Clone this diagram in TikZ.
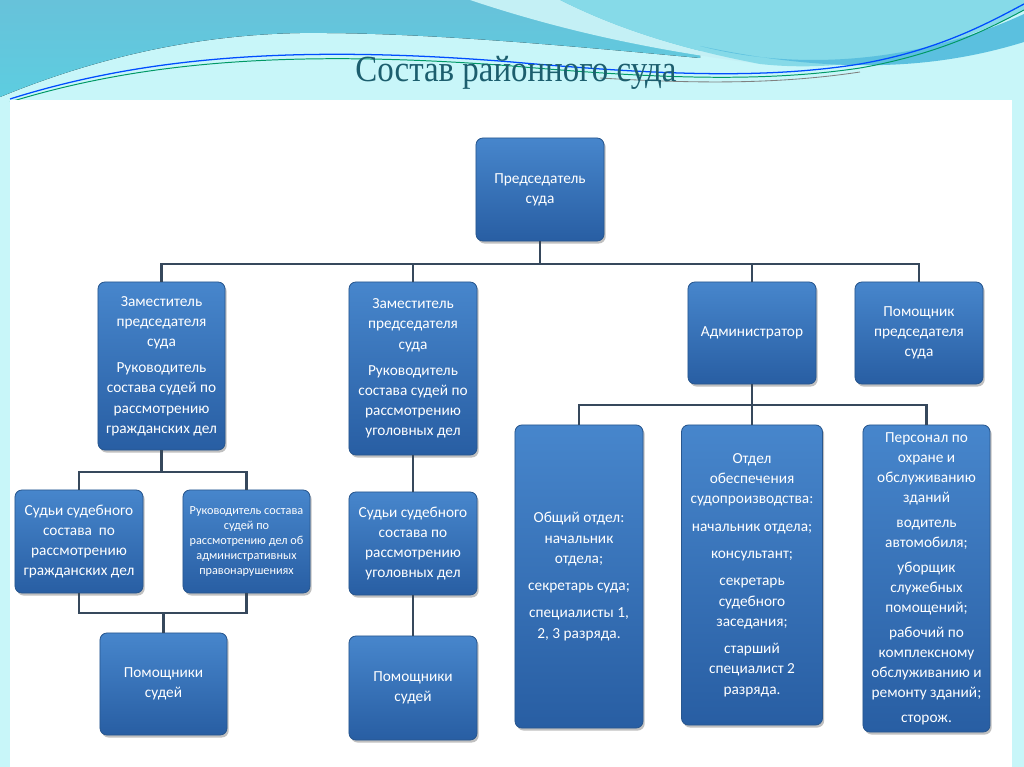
\documentclass[tikz,border=0pt]{standalone}
\usepackage{fontspec}
\newfontfamily\boxfont{Carlito}
\newfontfamily\titlefont{Liberation Serif}
\usetikzlibrary{shadows}
\definecolor{boxtop}{HTML}{4786CC}
\definecolor{boxbot}{HTML}{285EA3}
\definecolor{boxline}{HTML}{28578F}
\definecolor{wirec}{HTML}{36485C}
\definecolor{sky}{HTML}{C8F6F9}
\definecolor{waveA}{HTML}{67C2DA}
\definecolor{waveAb}{HTML}{5DCDE0}
\definecolor{waveB}{HTML}{86DAE8}
\definecolor{waveC}{HTML}{5BC0DF}
\definecolor{pale}{HTML}{C4F0F5}
\definecolor{titlec}{HTML}{1C5E6E}

\begin{document}
\begin{tikzpicture}[x=0.025cm,y=-0.025cm]
  \tikzstyle{unit}=[rounded corners=5pt,draw=boxline,line width=0.6pt,
    top color=boxtop,bottom color=boxbot,text=white,align=center,inner sep=2pt,
    font=\boxfont\fontsize{10.9}{14.4}\selectfont,
    minimum width=3.2cm,minimum height=2.575cm,
    drop shadow={shadow xshift=1.2pt,shadow yshift=-1.8pt,opacity=0.35,fill=black!70}]
  \tikzstyle{wire}=[draw=wirec,line width=2.1pt]

  % background
  \useasboundingbox (0,0) rectangle (1024,767);
  \fill[sky] (0,0) rectangle (1024,767);
  \fill[top color=waveA,bottom color=waveAb] (0,0) -- (0,97) .. controls (90,60) and (190,35) .. (300,33)
    .. controls (420,32) and (560,45) .. (700,58) -- (700,0) -- cycle;
  \fill[pale] (470,0) .. controls (560,30) and (650,50) .. (760,64) .. controls (660,45) and (600,20) .. (560,0) -- cycle;
  \fill[waveB] (560,0) .. controls (600,20) and (660,45) .. (760,64) .. controls (860,75) and (960,45) .. (1024,10) -- (1024,0) -- cycle;
  \fill[waveC] (700,46) .. controls (800,72) and (920,62) .. (1024,14) -- (1024,42) .. controls (940,68) and (840,76) .. (700,46) -- cycle;
  \draw[blue!70!cyan,line width=0.9pt] (10,99) .. controls (140,58) and (290,44) .. (512,62)
    .. controls (650,74) and (760,80) .. (860,64) .. controls (940,50) and (990,22) .. (1024,4);
  \draw[teal!80!green,line width=0.7pt] (10,102) .. controls (140,62) and (290,49) .. (512,66)
    .. controls (650,78) and (760,83) .. (860,68) .. controls (940,54) and (990,28) .. (1024,10);
  \draw[gray,line width=0.6pt] (600,78) .. controls (700,84) and (780,84) .. (860,72);
  \fill[white] (10,100) rectangle (1012,767);

  \node[font=\titlefont\fontsize{23.4}{28}\selectfont,text=titlec,anchor=base,yscale=1.12,transform shape] (title) at (516,82) {Состав районного суда};

  % top level
  \node[unit] (pred) at (540,189.5) {Председатель\\суда};
  \node[unit,minimum width=3.175cm,minimum height=4.2cm] (zam_1) at (161.5,366)
    {Заместитель\\председателя\\суда\\[4pt]Руководитель\\состава судей по\\рассмотрению\\гражданских дел};
  \node[unit,minimum height=4.325cm] (zam_2) at (413,368.5)
    {Заместитель\\председателя\\суда\\[4pt]Руководитель\\состава судей по\\рассмотрению\\уголовных дел};
  \node[unit,minimum height=2.55cm] (admin) at (752,333) {Администратор};
  \node[unit,minimum height=2.55cm] (pom) at (919,333) {Помощник\\председателя\\суда};

  % civil branch
  \node[unit] (sud_1) at (79,541.5) {Судьи судебного\\состава~ по\\рассмотрению\\гражданских дел};
  \node[unit,minimum width=3.175cm,font=\boxfont\fontsize{8.7}{10.8}\selectfont] (ruk) at (246.5,541.5)
    {Руководитель состава\\судей по\\рассмотрению дел об\\административных\\правонарушениях};
  \node[unit,minimum width=3.175cm,minimum height=2.55cm] (pom_1) at (163.5,684) {Помощники\\судей};

  % criminal branch
  \node[unit] (sud_2) at (413,543.5) {Судьи судебного\\состава по\\рассмотрению\\уголовных дел};
  \node[unit,minimum height=2.6cm] (pom_2) at (413,688) {Помощники\\судей};

  % administrator branch
  \node[unit,minimum height=7.575cm] (otd_1) at (579,576.5)
    {Общий отдел:\\начальник\\отдела;\\[5pt]секретарь суда;\\[5pt]специалисты 1,\\2, 3 разряда.};
  \node[unit,minimum width=3.525cm,minimum height=7.5cm] (otd_2) at (752,575)
    {Отдел\\обеспечения\\судопроизводства:\\[5pt]начальник отдела;\\[5pt]консультант;\\[5pt]секретарь\\судебного\\заседания;\\[5pt]старший\\специалист 2\\разряда.};
  \node[unit,minimum width=3.175cm,minimum height=7.675cm] (pers) at (926.5,578.5)
    {Персонал по\\охране и\\обслуживанию\\зданий\\[3pt]водитель\\автомобиля;\\[3pt]уборщик\\служебных\\помощений;\\[3pt]рабочий по\\комплексному\\обслуживанию и\\ремонту зданий;\\[3pt]сторож.};

  % connectors
  \coordinate (bus_1) at (540,264);
  \draw[wire] (pred) -- (bus_1);
  \draw[wire] (zam_1) |- (bus_1);
  \draw[wire] (bus_1) -| (pom);
  \draw[wire] (zam_2) -- (zam_2 |- bus_1);
  \draw[wire] (admin) -- (admin |- bus_1);

  \coordinate (bus_2) at (161.5,472);
  \draw[wire] (zam_1) -- (bus_2);
  \draw[wire] (sud_1) |- (bus_2);
  \draw[wire] (bus_2) -| (ruk);
  \coordinate (bus_3) at (163.5,613);
  \draw[wire] (sud_1) |- (bus_3);
  \draw[wire] (bus_3) -| (ruk);
  \draw[wire] (bus_3) -- (pom_1);

  \draw[wire] (zam_2) -- (sud_2);
  \draw[wire] (sud_2) -- (pom_2);

  \coordinate (bus_4) at (752,405);
  \draw[wire] (admin) -- (bus_4);
  \draw[wire] (otd_1) |- (bus_4);
  \draw[wire] (bus_4) -| (pers);
  \draw[wire] (bus_4) -- (otd_2);
\end{tikzpicture}
\end{document}
